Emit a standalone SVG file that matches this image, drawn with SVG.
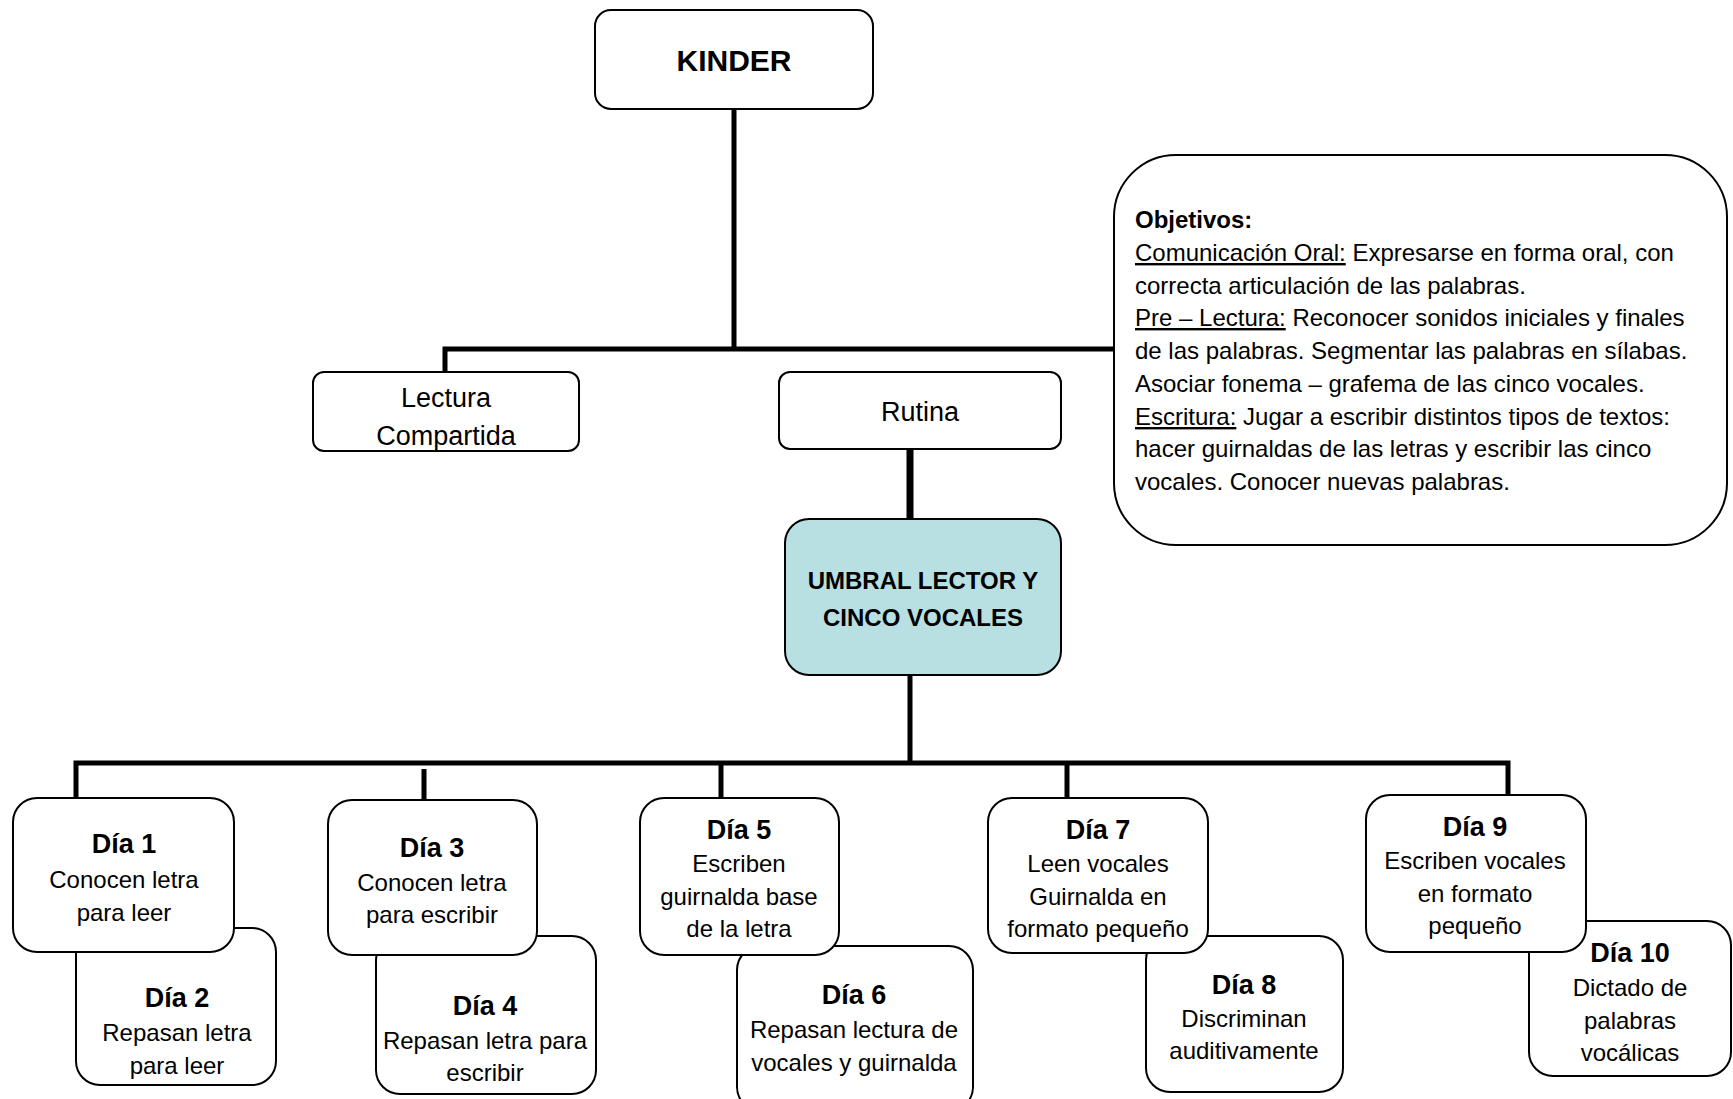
<svg xmlns="http://www.w3.org/2000/svg" width="1733" height="1099" viewBox="0 0 1733 1099">
<style>
.box{fill:#fff;stroke:#000;stroke-width:2}
.teal{fill:#b8dfe2;stroke:#000;stroke-width:2}
.t{font-family:"Liberation Sans",Arial,sans-serif;font-size:24px;fill:#000;text-anchor:middle}
.tl{font-family:"Liberation Sans",Arial,sans-serif;font-size:27px;fill:#000;text-anchor:middle}
.b{font-family:"Liberation Sans",Arial,sans-serif;font-size:27px;font-weight:bold;fill:#000;text-anchor:middle}
.ob{font-family:"Liberation Sans",Arial,sans-serif;font-size:24px;fill:#000}
.u{text-decoration:underline}
.c{fill:none;stroke:#000;stroke-width:5}
</style>
<defs>
<clipPath id="clipLect"><rect x="313" y="372" width="266" height="78"/></clipPath>
</defs>
<g id="connectors">
<path class="c" d="M734,109 V349"/>
<path class="c" d="M445,373 V349 H1114"/>
<path class="c" style="stroke-width:7" d="M910,449 V519"/>
<path class="c" d="M910,675 V763"/>
<path class="c" d="M76,798 V763 H1508 V795"/>
<path class="c" d="M424,769 V800"/>
<path class="c" d="M721,763 V798"/>
<path class="c" d="M1067,763 V798"/>
</g>
<g id="kinder">
<rect class="box" x="595" y="10" width="278" height="99" rx="16"/>
<text class="b" style="font-size:30px" x="734" y="71">KINDER</text>
</g>
<g id="lectura">
<rect class="box" x="313" y="372" width="266" height="79" rx="11"/>
<g clip-path="url(#clipLect)">
<text class="tl" x="446" y="407">Lectura</text>
<text class="tl" x="446" y="445">Compartida</text>
</g>
</g>
<g id="rutina">
<rect class="box" x="779" y="372" width="282" height="77" rx="11"/>
<text class="tl" x="920" y="421">Rutina</text>
</g>
<g id="objetivos">
<rect class="box" x="1114" y="155" width="613" height="390" rx="62"/>
<text class="ob" style="font-weight:bold" x="1135" y="228">Objetivos:</text>
<text class="ob" x="1135" y="261"><tspan class="u">Comunicación Oral:</tspan> Expresarse en forma oral, con</text>
<text class="ob" x="1135" y="294">correcta articulación de las palabras.</text>
<text class="ob" x="1135" y="326"><tspan class="u">Pre – Lectura:</tspan> Reconocer sonidos iniciales y finales</text>
<text class="ob" x="1135" y="359">de las palabras. Segmentar las palabras en sílabas.</text>
<text class="ob" x="1135" y="392">Asociar fonema – grafema de las cinco vocales.</text>
<text class="ob" x="1135" y="425"><tspan class="u">Escritura:</tspan> Jugar a escribir distintos tipos de textos:</text>
<text class="ob" x="1135" y="457">hacer guirnaldas de las letras y escribir las cinco</text>
<text class="ob" x="1135" y="490">vocales. Conocer nuevas palabras.</text>
</g>
<g id="umbral">
<rect class="teal" x="785" y="519" width="276" height="156" rx="24"/>
<text class="b" style="font-size:24px" x="923" y="589">UMBRAL LECTOR Y</text>
<text class="b" style="font-size:24px" x="923" y="626">CINCO VOCALES</text>
</g>
<g id="dia2">
<rect class="box" x="76" y="928" width="200" height="157" rx="24"/>
<text class="b" x="177" y="1007">Día 2</text>
<text class="t" x="177" y="1041">Repasan letra</text>
<text class="t" x="177" y="1074">para leer</text>
</g>
<g id="dia1">
<rect class="box" x="13" y="798" width="221" height="154" rx="24"/>
<text class="b" x="124" y="853">Día 1</text>
<text class="t" x="124" y="888">Conocen letra</text>
<text class="t" x="124" y="921">para leer</text>
</g>
<g id="dia4">
<rect class="box" x="376" y="936" width="220" height="158" rx="24"/>
<text class="b" x="485" y="1015">Día 4</text>
<text class="t" x="485" y="1049">Repasan letra para</text>
<text class="t" x="485" y="1081">escribir</text>
</g>
<g id="dia3">
<rect class="box" x="328" y="800" width="209" height="155" rx="24"/>
<text class="b" x="432" y="857">Día 3</text>
<text class="t" x="432" y="891">Conocen letra</text>
<text class="t" x="432" y="923">para escribir</text>
</g>
<g id="dia6">
<rect class="box" x="737" y="946" width="236" height="165" rx="24"/>
<text class="b" x="854" y="1004">Día 6</text>
<text class="t" x="854" y="1038">Repasan lectura de</text>
<text class="t" x="854" y="1071">vocales y guirnalda</text>
</g>
<g id="dia5">
<rect class="box" x="640" y="798" width="199" height="157" rx="24"/>
<text class="b" x="739" y="839">Día 5</text>
<text class="t" x="739" y="872">Escriben</text>
<text class="t" x="739" y="905">guirnalda base</text>
<text class="t" x="739" y="937">de la letra</text>
</g>
<g id="dia8">
<rect class="box" x="1146" y="936" width="197" height="156" rx="24"/>
<text class="b" x="1244" y="994">Día 8</text>
<text class="t" x="1244" y="1027">Discriminan</text>
<text class="t" x="1244" y="1059">auditivamente</text>
</g>
<g id="dia7">
<rect class="box" x="988" y="798" width="220" height="155" rx="24"/>
<text class="b" x="1098" y="839">Día 7</text>
<text class="t" x="1098" y="872">Leen vocales</text>
<text class="t" x="1098" y="905">Guirnalda en</text>
<text class="t" x="1098" y="937">formato pequeño</text>
</g>
<g id="dia10">
<rect class="box" x="1529" y="921" width="202" height="155" rx="24"/>
<text class="b" x="1630" y="962">Día 10</text>
<text class="t" x="1630" y="996">Dictado de</text>
<text class="t" x="1630" y="1029">palabras</text>
<text class="t" x="1630" y="1061">vocálicas</text>
</g>
<g id="dia9">
<rect class="box" x="1366" y="795" width="220" height="157" rx="24"/>
<text class="b" x="1475" y="836">Día 9</text>
<text class="t" x="1475" y="869">Escriben vocales</text>
<text class="t" x="1475" y="902">en formato</text>
<text class="t" x="1475" y="934">pequeño</text>
</g>
</svg>
